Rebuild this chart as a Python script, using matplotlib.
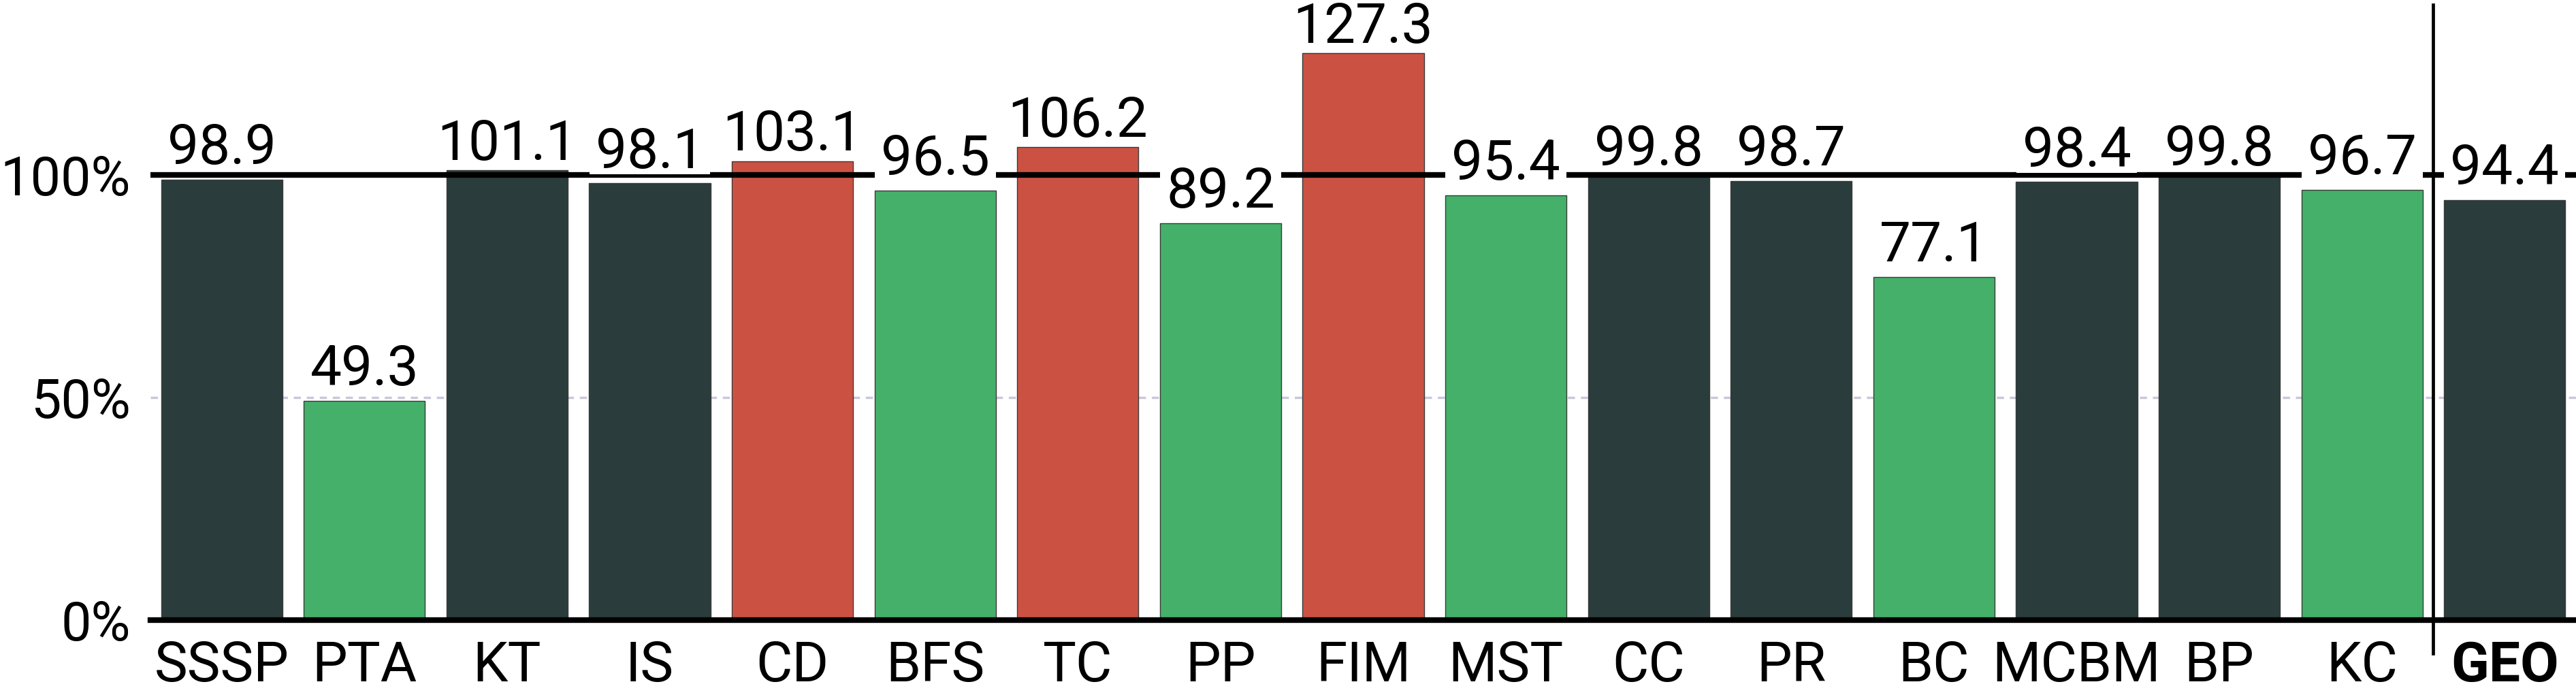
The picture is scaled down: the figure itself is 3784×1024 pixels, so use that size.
import numpy as np
import matplotlib
matplotlib.use("Agg")
import matplotlib.pyplot as plt
from matplotlib.patches import Rectangle
from matplotlib.ticker import FuncFormatter

plt.rcParams['font.family'] = ['Roboto', 'DejaVu Sans']

# data
names = ["SSSP", "PTA", "KT", "IS", "CD", "BFS", "TC", "PP", "FIM", "MST",
         "CC", "PR", "BC", "MCBM", "BP", "KC", "GEO"]
values = [98.9, 49.3, 101.1, 98.1, 103.1, 96.5, 106.2, 89.2, 127.3, 95.4,
          99.8, 98.7, 77.1, 98.4, 99.8, 96.7, 94.4]
groups = ["base", "good", "base", "base", "bad", "good", "bad", "good", "bad", "good",
          "base", "base", "good", "base", "base", "good", "base"]

palette = {"base": "#2a3c3c", "good": "#45b06a", "bad": "#cb5243"}
DPI = 100

fig = plt.figure(figsize=(37.84, 10.24), dpi=DPI)
ax = fig.add_axes([221 / 3784, 1 - 911 / 1024, 1 - 221 / 3784, 911 / 1024])

x = np.arange(len(names))
colors = [palette[g] for g in groups]
ax.bar(x, values, width=0.85, color=colors, edgecolor="#3a3a3a", linewidth=1.0, zorder=2)

# reference lines
ax.axhline(50, color="#c9c7d9", linestyle=(0, (3, 2.5)), linewidth=2.5, zorder=1)
ax.axhline(100, color="black", linewidth=6, zorder=3)
ax.axvline(15.5, ymin=-0.054, ymax=0.992, color="black", linewidth=3.4, clip_on=False, zorder=4)

ax.set_xlim(-0.5, 16.5)
ax.set_ylim(0, 139.3)

# value labels
labels = []
for xi, v in zip(x, values):
    off = 16.5 if v < 99 else 11
    t = ax.annotate(f"{v:.1f}", (xi, v), xytext=(0, off), textcoords="offset points",
                    ha="center", va="baseline", fontsize=59, color="black", zorder=6)
    labels.append((t, xi, v, off))

ax.set_yticks([0, 50, 100])
ax.yaxis.set_major_formatter(FuncFormatter(lambda v, p: f"{v:.0f}%"))
ax.set_xticks(x)
ax.set_xticklabels(names)
ax.get_xticklabels()[-1].set_fontweight("bold")
ax.tick_params(axis="both", length=0)
ax.tick_params(axis="x", pad=21, labelsize=59)
ax.tick_params(axis="y", pad=21, labelsize=57)

for s in ["top", "right", "left"]:
    ax.spines[s].set_visible(False)
ax.spines["bottom"].set_linewidth(6)
ax.spines["bottom"].set_zorder(7)

# white boxes behind the labels (glyph area only, no descent) to break the 100% line
fig.canvas.draw()
renderer = fig.canvas.get_renderer()
inv = ax.transData.inverted()
pad = 9
for t, xi, v, off in labels:
    bb = t.get_window_extent(renderer)
    base = ax.transData.transform((xi, v))[1] + off * DPI / 72
    (x0, y0) = inv.transform((bb.x0 - pad, base - pad))
    (x1, y1) = inv.transform((bb.x1 + pad, bb.y1))
    ax.add_patch(Rectangle((x0, y0), x1 - x0, y1 - y0, facecolor="white",
                           edgecolor="none", zorder=5, clip_on=False))

fig.savefig("out.png", dpi=DPI)
